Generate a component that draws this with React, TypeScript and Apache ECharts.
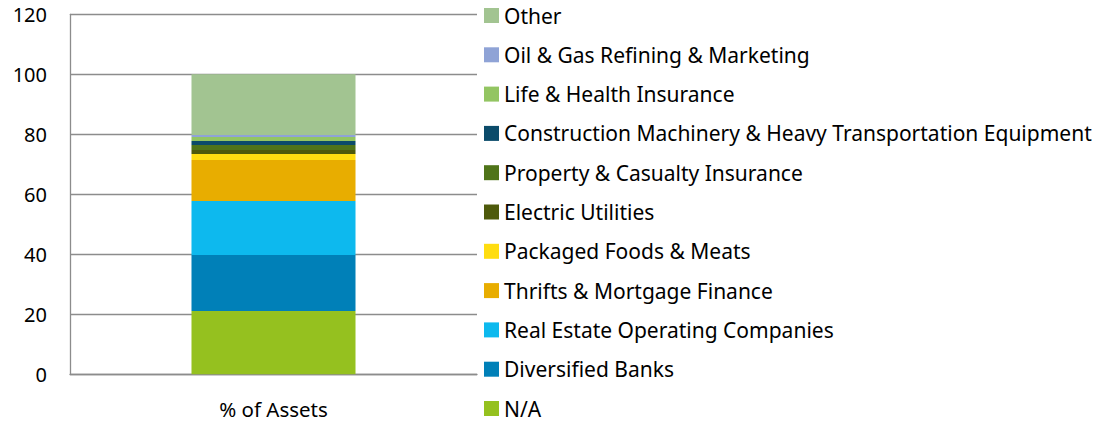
import React, { useEffect, useRef } from "react";
import * as echarts from "echarts";

const categories = ["% of Assets"];
const seriesNames = [
  "N/A",
  "Diversified Banks",
  "Real Estate Operating Companies",
  "Thrifts & Mortgage Finance",
  "Packaged Foods & Meats",
  "Electric Utilities",
  "Property & Casualty Insurance",
  "Construction Machinery & Heavy Transportation Equipment",
  "Life & Health Insurance",
  "Oil & Gas Refining & Marketing",
  "Other",
];
const seriesValues = [21.1, 18.7, 18.0, 13.6, 2.0, 1.4, 1.6, 1.4, 1.3, 0.7, 20.2];
const seriesColors = [
  "#95C11F",
  "#0080B8",
  "#0DB9EE",
  "#E8AD00",
  "#FFDD10",
  "#4E5A0B",
  "#4F7419",
  "#0B4B6A",
  "#93C562",
  "#8FA3D6",
  "#A2C491",
];
const yTicks = [0, 20, 40, 60, 80, 100, 120];

const FONT = "'Noto Sans', sans-serif";

export default function App() {
  const ref = useRef<HTMLDivElement>(null);
  useEffect(() => {
    const chart = echarts.init(ref.current!, null, { renderer: "svg" });
    chart.setOption({
      animation: false,
      textStyle: { fontFamily: FONT },
      grid: { left: 70, right: 637, top: 14.3, bottom: 48.7, containLabel: false },
      xAxis: {
        type: "category",
        data: categories,
        axisLine: { show: true, lineStyle: { color: "#8c8c8c", width: 1.3 } },
        axisTick: { show: false },
        axisLabel: { color: "#000", fontSize: 20.5, fontFamily: FONT, margin: 24 },
      },
      yAxis: {
        type: "value",
        min: yTicks[0],
        max: yTicks[yTicks.length - 1],
        interval: 20,
        axisLine: { show: true, lineStyle: { color: "#8c8c8c", width: 1.3 } },
        axisTick: { show: false },
        splitLine: { show: true, lineStyle: { color: "#8c8c8c", width: 1.3 } },
        axisLabel: { color: "#000", fontSize: 20, fontFamily: FONT, margin: 23 },
      },
      legend: {
        orient: "vertical",
        left: 484,
        top: 5,
        height: 430,
        padding: 0,
        itemWidth: 15,
        itemHeight: 15,
        itemGap: 18.3,
        icon: "rect",
        data: [...seriesNames].reverse(),
        textStyle: { color: "#000", fontSize: 21, fontFamily: FONT, lineHeight: 20 },
        itemStyle: { borderWidth: 0 },
      },
      series: seriesNames.map((name, i) => ({
        name,
        type: "bar",
        stack: "total",
        barWidth: "40.3%",
        data: [seriesValues[i]],
        itemStyle: { color: seriesColors[i] },
      })),
    });
    return () => chart.dispose();
  }, []);
  return (
    <div
      ref={ref}
      style={{ position: "absolute", left: 0, top: 0, width: 1114, height: 423, background: "#fff" }}
    />
  );
}
